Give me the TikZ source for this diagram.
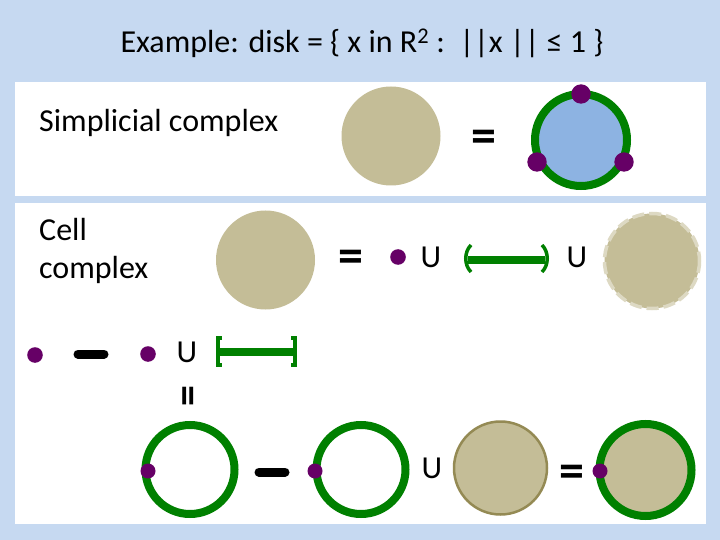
\documentclass[tikz,border=0pt]{standalone}
\usepackage{fontspec}
\setmainfont{Carlito}
\definecolor{bgblue}{RGB}{198,217,241}
\definecolor{tan}{RGB}{196,189,151}
\definecolor{tanlight}{RGB}{221,217,195}
\definecolor{tandark}{RGB}{148,138,84}
\definecolor{diskblue}{RGB}{141,179,226}
\definecolor{ringgreen}{RGB}{0,128,0}
\definecolor{vpurple}{RGB}{102,0,102}
\begin{document}
\begin{tikzpicture}[x=1pt,y=-1pt,
  lbl/.style={inner sep=0pt,font=\fontsize{32}{38}\selectfont},
  eqsign/.style={inner sep=0pt,anchor=base,font=\fontsize{50}{50}\selectfont\bfseries},
  vtx/.style={fill=vpurple},
  ring/.style={draw=ringgreen,line width=8pt},
  seg/.style={draw=ringgreen,line width=8pt},
  paren/.style={draw=ringgreen,line width=3.5pt},
  minus/.style={draw=black,line width=9pt,line cap=round}]
\useasboundingbox (0,0) rectangle (720,540);
\fill[bgblue] (0,0) rectangle (720,540);
\fill[white] (15,82) rectangle (706,196);
\fill[white] (15,203) rectangle (706,524);

\node[lbl] (title) at (362,43) {Example: disk = \{ x in R\textsuperscript{2} :\ \ ||x || ≤ 1 \}};

% Panel 1
\node[lbl,anchor=west] (simp) at (39,123) {Simplicial complex};
\fill[tan] (391,136) circle (49.5);
\node[eqsign] (eq1) at (484,153) {=};
\fill[diskblue] (581,140) circle (46);
\draw[ring] (581,140) circle (46);
\fill[vtx] (581,94) circle (9.7);
\fill[vtx] (537,162) circle (9.7);
\fill[vtx] (624,162) circle (9.7);

% Panel 2 row 1
\node[lbl,anchor=west,align=left,font=\fontsize{32}{38}\selectfont] (cell) at (39,251) {Cell\\complex};
\fill[tan] (265.5,260) circle (49.5);
\node[eqsign] (eq2) at (351,272) {=};
\fill[vtx] (398,257) circle (7.8);
\node[lbl] (u1) at (431,257) {U};
\draw[seg] (468,260) -- (545,260);
\draw[paren] (471,245) .. controls (464,252) and (464,265) .. (471,272);
\draw[paren] (542,245) .. controls (549,252) and (549,265) .. (542,272);
\node[lbl] (u2) at (577,257) {U};
\fill[tan] (652,261) circle (47.5);
\draw[tanlight,line width=3.5pt,dash pattern=on 12pt off 5pt] (652,261) circle (47.5);

% Row 2
\fill[vtx] (35,355) circle (7.8);
\draw[minus] (78,354) -- (104,354);
\fill[vtx] (148,354) circle (7.8);
\node[lbl] (u3) at (187,352) {U};
\draw[seg] (219,352) -- (295,352);
\draw[paren] (222,338) -- (218,338) -- (218,365) -- (222,365);
\draw[paren] (291,338) -- (295,338) -- (295,365) -- (291,365);
\node[inner sep=0pt,font=\fontsize{42}{42}\selectfont\bfseries,rotate=90] (eq3) at (192,396) {=};

% Row 3
\draw[ring] (190,469.5) circle (44.5);
\fill[vtx] (148,471) circle (7.5);
\draw[minus] (259,472) -- (285,472);
\draw[ring] (361,469.5) circle (44.5);
\fill[vtx] (315,471) circle (7.5);
\node[lbl] (u4) at (432,468) {U};
\fill[tan] (500.5,468) circle (46.5);
\draw[tandark,line width=2.5pt] (500.5,468) circle (46.5);
\node[eqsign] (eq4) at (572,487) {=};
\fill[tan] (645.5,470) circle (46);
\draw[ring] (645.5,470) circle (46);
\fill[vtx] (600,471) circle (7.5);
\end{tikzpicture}
\end{document}
